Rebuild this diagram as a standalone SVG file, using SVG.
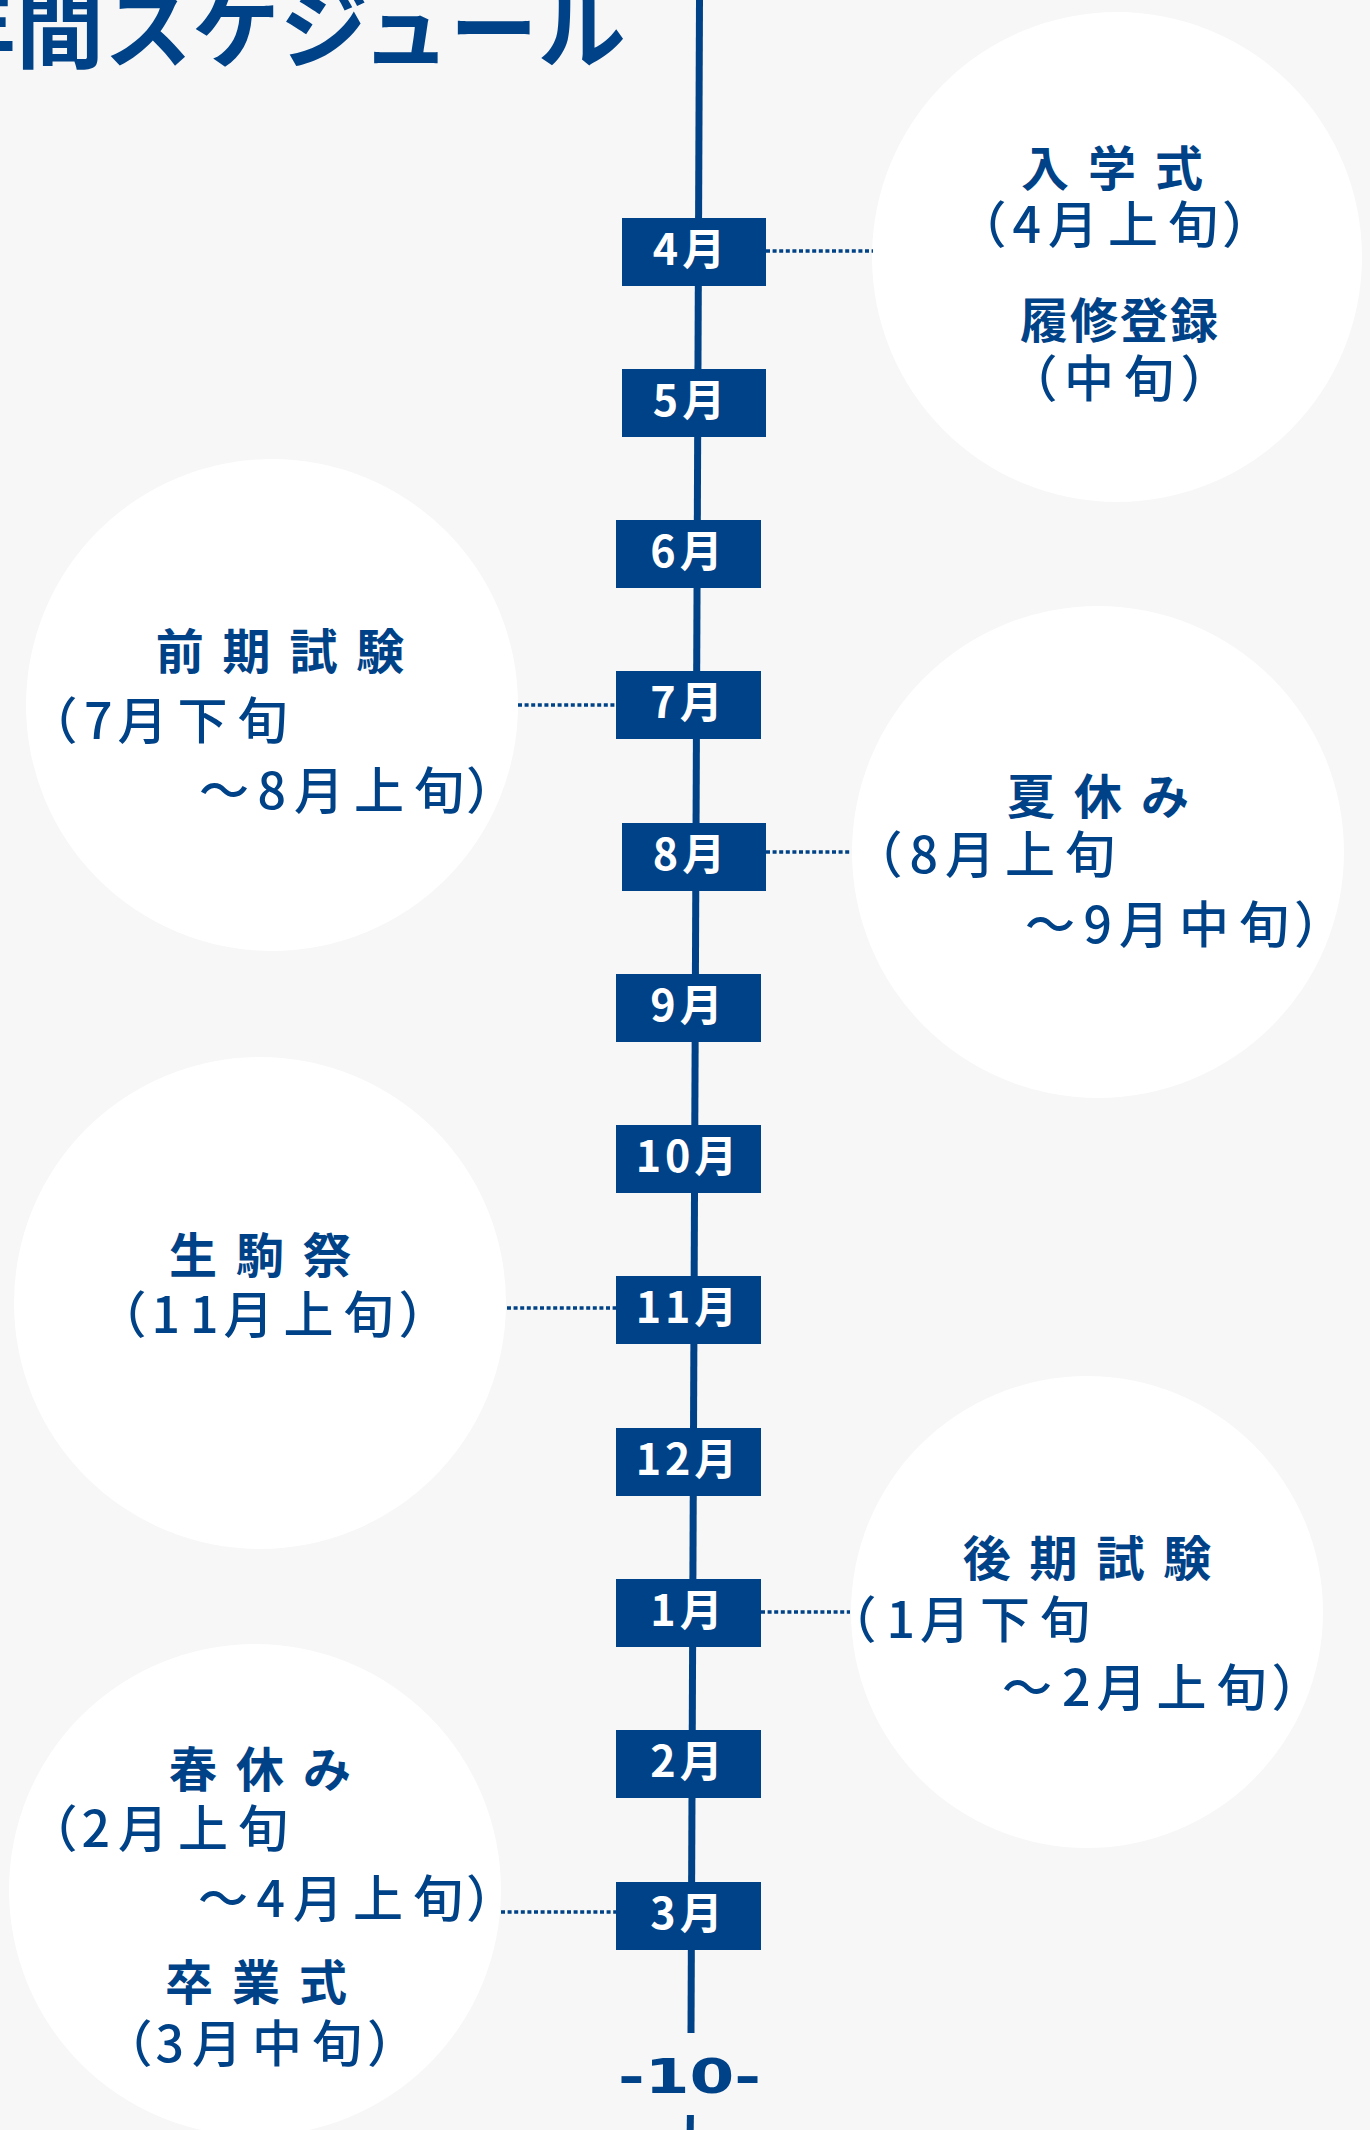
<svg xmlns="http://www.w3.org/2000/svg" width="1370" height="2130" viewBox="0 0 1370 2130">
<style>
.bg{fill:#f7f7f7}
.cir{fill:#ffffff}
.box{fill:#004287}
.lbl{font-family:"Noto Sans CJK JP","Noto Sans",sans-serif;font-weight:700;font-size:43px;fill:#ffffff;letter-spacing:4px;text-anchor:middle}
.ttl{font-family:"Noto Sans CJK JP","Noto Sans",sans-serif;font-weight:700;font-size:48px;fill:#004287;letter-spacing:4px;text-anchor:middle}
.ttl2{font-family:"Noto Sans CJK JP","Noto Sans",sans-serif;font-weight:700;font-size:48px;fill:#004287;letter-spacing:2px;text-anchor:middle}
.sub{font-family:"Noto Sans CJK JP","Noto Sans",sans-serif;font-weight:500;font-size:50px;fill:#004287;letter-spacing:10px}
.dot{stroke:#004287;stroke-width:3.5;stroke-dasharray:4 2.6;fill:none}
.axis{stroke:#004287;stroke-width:7;fill:none}
</style>
<rect class="bg" x="0" y="0" width="1370" height="2130"/>
<text x="-72" y="61" font-family="Noto Sans CJK JP, sans-serif" font-weight="700" font-size="88" fill="#004287">年間スケジュール</text>

<g id="event-nyugaku">
<circle class="cir" cx="1117" cy="257" r="245"/>
<text class="ttl" x="1114" y="186">入 学 式</text>
<text class="sub" x="956.5" y="243">（<tspan dx="-4">4</tspan><tspan dx="-3">月上旬</tspan><tspan dx="-6">）</tspan></text>
<text class="ttl2" x="1120" y="338">履修登録</text>
<text class="sub" x="1007.5" y="397">（<tspan dx="-3.5">中旬</tspan><tspan dx="-3.5">）</tspan></text>
</g>
<g id="event-zenki">
<circle class="cir" cx="272" cy="705" r="246"/>
<text class="ttl" x="282" y="669">前 期 試 験</text>
<text class="sub" x="27.5" y="739">（<tspan dx="-3.5">7</tspan><tspan dx="-5">月下旬</tspan></text>
<text class="sub" x="199" y="809">～<tspan dx="-1.5">8</tspan><tspan dx="-2">月上旬</tspan><tspan dx="-8">）</tspan></text>
</g>
<g id="event-natsu">
<circle class="cir" cx="1098" cy="852" r="246"/>
<text class="ttl" x="1100" y="814">夏 休 み</text>
<text class="sub" x="852.5" y="873">（<tspan dx="-3">8</tspan><tspan dx="-3">月上旬</tspan></text>
<text class="sub" x="1025" y="943">～<tspan dx="-1.5">9</tspan><tspan dx="-3">月中旬</tspan><tspan dx="-5">）</tspan></text>
</g>
<g id="event-ikomasai">
<circle class="cir" cx="260" cy="1303" r="246"/>
<text class="ttl" x="262" y="1273">生 駒 祭</text>
<text class="sub" x="96.5" y="1333">（<tspan dx="-5">11</tspan><tspan dx="-5">月上旬</tspan><tspan dx="-5">）</tspan></text>
</g>
<g id="event-kouki">
<circle class="cir" cx="1087" cy="1612" r="236"/>
<text class="ttl" x="1089" y="1576">後 期 試 験</text>
<text class="sub" x="826.5" y="1638">（1<tspan dx="-5">月下旬</tspan></text>
<text class="sub" x="1002" y="1706">～2<tspan dx="-4">月上旬</tspan><tspan dx="-5">）</tspan></text>
</g>
<g id="event-haru">
<circle class="cir" cx="255" cy="1890" r="246"/>
<text class="ttl" x="262" y="1787">春 休 み</text>
<text class="sub" x="27.5" y="1847">（<tspan dx="-6">2</tspan><tspan dx="-2">月上旬</tspan></text>
<text class="sub" x="198" y="1917">～<tspan dx="-1.5">4</tspan><tspan dx="-2">月上旬</tspan><tspan dx="-7">）</tspan></text>
<text class="ttl" x="258" y="2000">卒 業 式</text>
<text class="sub" x="102.5" y="2062">（<tspan dx="-7">3</tspan><tspan dx="-2">月中旬</tspan><tspan dx="-5">）</tspan></text>
</g>

<g id="axis">
<line class="axis" x1="699.5" y1="0" x2="691" y2="2033"/>
<line class="axis" x1="690.4" y1="2115" x2="690.2" y2="2130"/>
</g>

<g id="connectors">
<line class="dot" x1="766" y1="251" x2="873" y2="251"/>
<line class="dot" x1="518" y1="705" x2="616" y2="705"/>
<line class="dot" x1="766" y1="852" x2="851" y2="852"/>
<line class="dot" x1="507" y1="1308" x2="616" y2="1308"/>
<line class="dot" x1="761" y1="1612" x2="850" y2="1612"/>
<line class="dot" x1="501" y1="1912" x2="616" y2="1912"/>
</g>

<g id="m04"><rect class="box" x="622" y="218" width="144" height="68"/><text class="lbl" x="691" y="265">4月</text></g>
<g id="m05"><rect class="box" x="622" y="369" width="144" height="68"/><text class="lbl" x="691" y="416">5月</text></g>
<g id="m06"><rect class="box" x="616" y="520" width="145" height="68"/><text class="lbl" x="688.5" y="567">6月</text></g>
<g id="m07"><rect class="box" x="616" y="671" width="145" height="68"/><text class="lbl" x="688.5" y="718">7月</text></g>
<g id="m08"><rect class="box" x="622" y="823" width="144" height="68"/><text class="lbl" x="691" y="870">8月</text></g>
<g id="m09"><rect class="box" x="616" y="974" width="145" height="68"/><text class="lbl" x="688.5" y="1021">9月</text></g>
<g id="m10"><rect class="box" x="616" y="1125" width="145" height="68"/><text class="lbl" x="688.5" y="1172">10月</text></g>
<g id="m11"><rect class="box" x="616" y="1276" width="145" height="68"/><text class="lbl" x="688.5" y="1323">11月</text></g>
<g id="m12"><rect class="box" x="616" y="1428" width="145" height="68"/><text class="lbl" x="688.5" y="1475">12月</text></g>
<g id="m01"><rect class="box" x="616" y="1579" width="145" height="68"/><text class="lbl" x="688.5" y="1626">1月</text></g>
<g id="m02"><rect class="box" x="616" y="1730" width="145" height="68"/><text class="lbl" x="688.5" y="1777">2月</text></g>
<g id="m03"><rect class="box" x="616" y="1882" width="145" height="68"/><text class="lbl" x="688.5" y="1929">3月</text></g>

<text x="618" y="2093" textLength="143" lengthAdjust="spacingAndGlyphs" font-family="DejaVu Sans, sans-serif" font-weight="700" font-size="48" fill="#004287">-10-</text>
</svg>
